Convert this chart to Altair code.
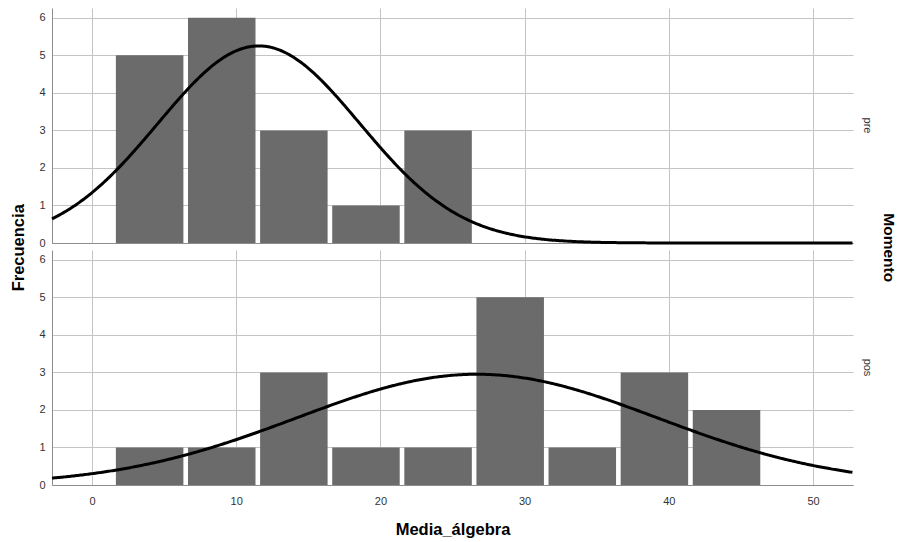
import altair as alt
import pandas as pd

# ---- data ----
moments = ["pre", "pos"]
pre_centers = [4, 9, 14, 19, 24]
pre_counts = [5, 6, 3, 1, 3]
pos_centers = [4, 9, 14, 19, 24, 29, 34, 39, 44]
pos_counts = [1, 1, 3, 1, 1, 5, 1, 3, 2]
# fitted normal curves (mean, sd, peak height) per moment
curve_mean = [11.57, 26.7]
curve_sd = [7.0, 12.5]
curve_peak = [5.25, 2.95]
x_ticks = [0, 10, 20, 30, 40, 50]
y_ticks = [0, 1, 2, 3, 4, 5, 6]
x_min, x_max = -2.77, 52.77
y_max = 6.26

FONT = "Liberation Sans"
BAR = "#6b6b6b"


def panel(idx, centers, counts, show_x):
    df = pd.DataFrame({"x": centers, "count": counts})
    xscale = alt.Scale(domain=[x_min, x_max], nice=False, zero=False, padding=0)
    yscale = alt.Scale(domain=[0, y_max], nice=False, padding=0)
    if show_x:
        xaxis = alt.Axis(values=x_ticks, title="Media_álgebra", ticks=False,
                         labelPadding=10, titlePadding=15, grid=True)
    else:
        xaxis = alt.Axis(values=x_ticks, title=None, labels=False, ticks=False, grid=True,
                         minExtent=0, maxExtent=0)
    yaxis = alt.Axis(values=y_ticks, title=None, ticks=False, labelPadding=7, grid=True)

    bars = alt.Chart(df).mark_bar(size=67.5, color=BAR, orient="vertical").encode(
        x=alt.X("x:Q", scale=xscale, axis=xaxis),
        y=alt.Y("count:Q", scale=yscale, axis=yaxis),
    )
    expr = (f"{curve_peak[idx]} * exp(-0.5 * pow((datum.x - {curve_mean[idx]}) / "
            f"{curve_sd[idx]}, 2))")
    curve = alt.Chart(alt.sequence(x_min, x_max + 0.01, 0.1, as_="x")).transform_calculate(
        y=expr
    ).mark_line(color="black", strokeWidth=3).encode(
        x=alt.X("x:Q", scale=xscale, axis=xaxis),
        y=alt.Y("y:Q", scale=yscale, axis=yaxis),
    )
    return alt.layer(bars, curve).properties(
        width=801, height=235,
        title=alt.TitleParams(text=moments[idx], orient="right", angle=90, anchor="middle",
                              fontSize=11, fontWeight="normal", color="#333333",
                              font=FONT, offset=4),
    )


top = panel(0, pre_centers, pre_counts, False)
bottom = panel(1, pos_centers, pos_counts, True)

inner = alt.vconcat(top, bottom, spacing=1).properties(
    title=alt.TitleParams(text="Momento", orient="right", angle=90, anchor="middle",
                          fontSize=15.5, fontWeight="bold", color="black", font=FONT,
                          offset=7, dx=-25)
)

chart = alt.vconcat(inner).properties(
    title=alt.TitleParams(text="Frecuencia", orient="left", anchor="middle",
                          fontSize=16.5, fontWeight="bold", color="black", font=FONT,
                          offset=11.5, dx=25),
    padding={"left": 2, "top": 0, "right": 3, "bottom": 0},
).configure_axis(
    gridColor="#c4c4c4", gridWidth=1, domainColor="#8c8c8c",
    labelFont=FONT, labelFontSize=11, labelColor="#333333",
    titleFont=FONT, titleFontSize=16.5, titleFontWeight="bold", titleColor="black",
).configure_view(stroke=None)

chart.save("out.html", embed_options={"renderer": "svg", "actions": False})
